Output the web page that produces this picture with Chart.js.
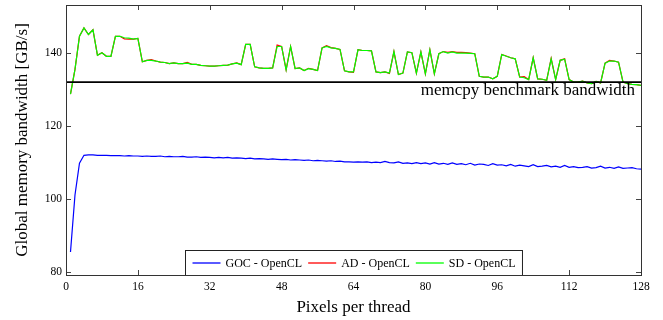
<!DOCTYPE html>
<html>
<head>
<meta charset="utf-8">
<script src="https://cdn.jsdelivr.net/npm/chart.js@4.4.1/dist/chart.umd.min.js"></script>
<style>
  html, body { margin: 0; padding: 0; background: #fff; }
</style>
</head>
<body>
<canvas id="bw" width="663" height="320"></canvas>
<script>
// x = 1..128 pixels per thread
const pixelsPerThread = Array.from({ length: 128 }, (_, i) => i + 1);

const gocOpenCL = [
  85.4, 101.1, 109.8, 112.0, 112.1, 112.1, 112.0, 112.0, 112.0, 111.9,
  111.9, 111.9, 111.8, 111.9, 111.8, 111.8, 111.7, 111.8, 111.7, 111.7,
  111.8, 111.6, 111.7, 111.6, 111.6, 111.7, 111.5, 111.5, 111.6, 111.4,
  111.5, 111.4, 111.3, 111.4, 111.3, 111.4, 111.2, 111.3, 111.2, 111.1,
  111.2, 111.0, 111.1, 111.0, 110.9, 111.0, 110.9, 110.8, 110.9, 110.7,
  110.8, 110.7, 110.6, 110.7, 110.5, 110.6, 110.5, 110.4, 110.5, 110.3,
  110.4, 110.2, 110.2, 110.1, 110.2, 110.1, 110.2, 110.0, 110.1, 110.0,
  110.3, 110.0, 109.9, 110.2, 109.8, 109.9, 109.7, 110.0, 109.7, 109.9,
  109.6, 110.0, 109.6, 109.8, 109.5, 109.9, 109.5, 109.7, 109.4, 109.8,
  109.3, 109.6, 109.5, 109.2, 109.7, 109.3, 109.4, 109.1, 109.5, 109.0,
  109.3, 109.1, 108.9, 109.4, 108.9, 109.0, 109.2, 108.8, 109.0, 108.7,
  109.2, 108.7, 108.9, 108.6, 108.7, 108.9, 108.5, 108.6, 109.0, 108.5,
  108.7, 108.4, 108.8, 108.4, 108.5, 108.6, 108.3, 108.2
];

const adOpenCL = [
  128.8, 135.6, 144.7, 147.0, 145.2, 146.5, 139.5, 140.2, 139.2, 139.2,
  144.7, 144.7, 144.0, 143.9, 143.9, 144.1, 137.7, 138.1, 138.3, 137.9,
  137.6, 137.5, 137.2, 137.4, 137.2, 137.2, 137.5, 137.0, 137.0, 136.7,
  136.6, 136.5, 136.5, 136.6, 136.7, 136.8, 137.1, 137.4, 136.9, 142.5,
  142.5, 136.3, 136.0, 135.9, 135.9, 136.0, 142.3, 141.9, 135.5, 141.9,
  135.8, 136.0, 135.3, 135.9, 135.6, 135.3, 141.5, 142.1, 141.6, 141.4,
  141.1, 135.2, 134.9, 134.8, 141.0, 140.8, 140.8, 140.7, 134.9, 134.7,
  134.9, 134.5, 140.5, 134.2, 134.6, 140.4, 140.2, 134.6, 140.4, 134.4,
  141.0, 134.4, 139.9, 140.5, 140.3, 140.5, 140.3, 140.3, 140.2, 140.1,
  139.9, 133.7, 133.5, 133.5, 133.0, 133.7, 139.7, 139.3, 138.8, 138.5,
  133.5, 133.6, 132.8, 138.8, 133.0, 132.9, 132.6, 138.6, 132.8, 138.1,
  138.5, 132.8, 132.1, 132.1, 132.4, 131.9, 131.7, 132.3, 131.9, 137.3,
  138.1, 137.9, 137.6, 132.1, 131.7, 131.5, 131.4, 131.2
];

const sdOpenCL = [
  128.8, 135.6, 144.7, 147.0, 145.2, 146.5, 139.5, 140.2, 139.2, 139.2,
  144.7, 144.7, 144.3, 144.2, 143.9, 144.1, 137.7, 138.1, 138.1, 137.9,
  137.6, 137.5, 137.2, 137.4, 137.2, 137.2, 137.3, 137.0, 137.0, 136.7,
  136.6, 136.5, 136.5, 136.6, 136.7, 136.8, 137.1, 137.3, 136.9, 142.5,
  142.5, 136.3, 136.0, 135.9, 135.9, 136.0, 141.9, 141.9, 135.5, 141.9,
  135.8, 136.0, 135.3, 135.8, 135.6, 135.3, 141.5, 141.9, 141.5, 141.4,
  141.1, 135.2, 134.9, 134.9, 141.0, 140.8, 140.8, 140.7, 134.9, 134.7,
  134.9, 134.6, 140.5, 134.2, 134.6, 140.4, 140.2, 134.6, 140.4, 134.4,
  141.0, 134.4, 139.9, 140.5, 140.1, 140.4, 140.1, 140.1, 140.1, 140.0,
  139.9, 133.7, 133.5, 133.5, 133.0, 133.7, 139.7, 139.2, 138.8, 138.5,
  133.5, 133.3, 132.8, 138.8, 133.0, 132.9, 132.6, 138.5, 132.8, 138.1,
  138.4, 132.8, 132.1, 132.1, 132.4, 131.9, 131.7, 132.3, 131.9, 137.3,
  137.9, 137.9, 137.6, 132.1, 131.7, 131.5, 131.4, 131.2
];

const memcpyBandwidth = 132.1;
const memcpyLabel = 'memcpy benchmark bandwidth';

const xTicks = [0, 16, 32, 48, 64, 80, 96, 112, 128];
const yTicks = [80, 100, 120, 140];

const seriesNames = ['GOC - OpenCL', 'AD - OpenCL', 'SD - OpenCL'];
const seriesColors = ['#0000ff', '#ff0000', '#00ff00'];

const serif = '"Liberation Serif", "Times New Roman", serif';

const toPoints = ys => ys.map((y, i) => ({ x: pixelsPerThread[i], y }));

// box frame, inward ticks, memcpy label and the in-plot legend (pgfplots look)
const paperDecor = {
  id: 'paperDecor',
  afterDraw(chart) {
    const { ctx, chartArea: a, scales: { x, y } } = chart;
    ctx.save();

    ctx.strokeStyle = '#444';
    ctx.lineWidth = 1;
    ctx.beginPath();
    xTicks.forEach(v => {
      const px = Math.round(x.getPixelForValue(v)) + 0.5;
      ctx.moveTo(px, a.bottom); ctx.lineTo(px, a.bottom - 5);
      ctx.moveTo(px, a.top); ctx.lineTo(px, a.top + 5);
    });
    yTicks.forEach(v => {
      const py = Math.round(y.getPixelForValue(v)) + 0.5;
      ctx.moveTo(a.left, py); ctx.lineTo(a.left + 5, py);
      ctx.moveTo(a.right, py); ctx.lineTo(a.right - 5, py);
    });
    ctx.stroke();

    // memcpy text under its line
    const my = y.getPixelForValue(memcpyBandwidth);
    ctx.fillStyle = '#000';
    ctx.font = '17px ' + serif;
    ctx.textAlign = 'right';
    ctx.textBaseline = 'alphabetic';
    ctx.fillText(memcpyLabel, a.right - 6, my + 13);

    // legend
    ctx.font = '12px ' + serif;
    const lineLen = 28, gap = 5, pad = 7, itemGap = 6;
    const widths = seriesNames.map(n => ctx.measureText(n).width);
    const total = pad * 2 + widths.reduce((s, w) => s + lineLen + gap + w, 0) + itemGap * (seriesNames.length - 1);
    const boxH = 25;
    const bx = Math.round((a.left + a.right) / 2 - total / 2) + 0.5;
    const by = Math.round(a.bottom - boxH) + 0.5;
    ctx.fillStyle = '#fff';
    ctx.fillRect(bx, by, total, boxH);
    ctx.strokeStyle = '#222';
    ctx.strokeRect(bx, by, total, boxH);
    let cx = bx + pad;
    const cy = by + boxH / 2;
    ctx.textAlign = 'left';
    ctx.textBaseline = 'middle';
    seriesNames.forEach((n, i) => {
      ctx.strokeStyle = seriesColors[i];
      ctx.lineWidth = 1.3;
      ctx.beginPath();
      ctx.moveTo(cx, cy); ctx.lineTo(cx + lineLen, cy);
      ctx.stroke();
      ctx.fillStyle = '#000';
      ctx.fillText(n, cx + lineLen + gap, cy + 1);
      cx += lineLen + gap + widths[i] + itemGap;
    });

    // frame
    ctx.strokeStyle = '#333';
    ctx.lineWidth = 1;
    ctx.strokeRect(Math.round(a.left) + 0.5, Math.round(a.top) + 0.5,
      Math.round(a.right - a.left), Math.round(a.bottom - a.top));
    ctx.restore();
  }
};

new Chart(document.getElementById('bw'), {
  type: 'line',
  data: {
    datasets: [
      { label: seriesNames[0], data: toPoints(gocOpenCL), borderColor: seriesColors[0], borderWidth: 1.2, order: 3 },
      { label: seriesNames[1], data: toPoints(adOpenCL), borderColor: seriesColors[1], borderWidth: 1.2, order: 2 },
      { label: seriesNames[2], data: toPoints(sdOpenCL), borderColor: seriesColors[2], borderWidth: 1.2, order: 1 },
      { label: 'memcpy', data: [{ x: 0, y: memcpyBandwidth }, { x: 128, y: memcpyBandwidth }], borderColor: '#000', borderWidth: 1.6, order: 0 }
    ]
  },
  options: {
    responsive: false,
    animation: false,
    devicePixelRatio: 1,
    layout: { padding: { left: 0, right: 22, top: 5, bottom: 0 } },
    elements: { point: { radius: 0 }, line: { tension: 0, fill: false } },
    plugins: { legend: { display: false }, tooltip: { enabled: false } },
    scales: {
      x: {
        type: 'linear',
        min: 0,
        max: 128,
        afterBuildTicks: s => { s.ticks = xTicks.map(v => ({ value: v })); },
        afterFit: s => { s.height = 45; s.paddingLeft = 0; s.paddingRight = 0; },
        grid: { display: false, drawTicks: false },
        border: { display: false },
        ticks: { color: '#000', padding: 5, maxRotation: 0, font: { family: serif, size: 11.5 } },
        title: { display: true, text: 'Pixels per thread', color: '#000', padding: { top: 0, bottom: 2 }, font: { family: serif, size: 17 } }
      },
      y: {
        min: 79.1,
        max: 153.3,
        afterBuildTicks: s => { s.ticks = yTicks.map(v => ({ value: v })); },
        afterFit: s => { s.width = 66; s.paddingTop = 0; s.paddingBottom = 0; },
        grid: { display: false, drawTicks: false },
        border: { display: false },
        ticks: { color: '#000', padding: 4, font: { family: serif, size: 11.5 } },
        title: { display: true, text: 'Global memory bandwidth [GB/s]', color: '#000', padding: { top: 12, bottom: 0 }, font: { family: serif, size: 17 } }
      }
    }
  },
  plugins: [paperDecor]
});
</script>
</body>
</html>
